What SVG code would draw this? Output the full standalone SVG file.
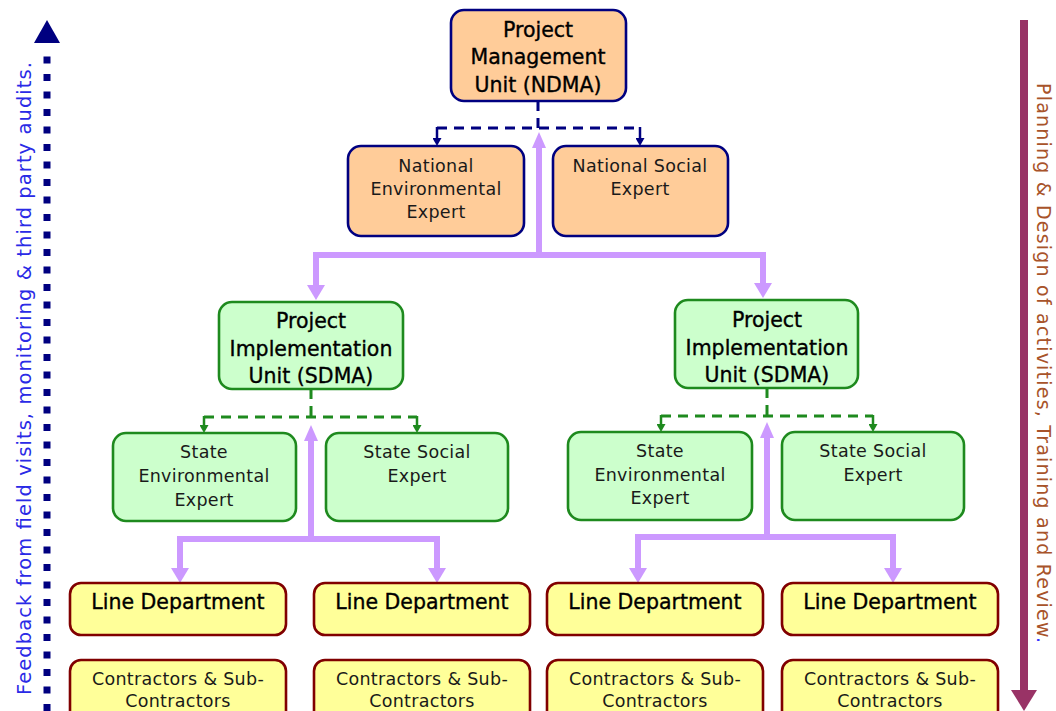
<svg xmlns="http://www.w3.org/2000/svg" width="1056" height="711" viewBox="0 0 1056 711">
<style>
  .box { stroke-width: 2.6; }
  .nat { fill: #FFCC99; stroke: #000080; }
  .sta { fill: #CCFFCC; stroke: #1E8A1E; }
  .lin { fill: #FFFF99; stroke: #800000; }
  text { font-family: "DejaVu Sans", "Liberation Sans", sans-serif; text-anchor: middle; }
  .h { font-size: 20.5px; fill: #000; stroke: #000; stroke-width: 0.35; }
  .e { font-size: 17.5px; fill: #1a1a1a; letter-spacing: 0.3px; }
  .c { font-size: 17.5px; fill: #1a1a1a; letter-spacing: 0.3px; }
  .purple { fill: none; stroke: #CC99FF; stroke-width: 6; stroke-linejoin: miter; }
  .ndash { fill: none; stroke: #000080; stroke-width: 3; stroke-dasharray: 10 7; }
  .gdash { fill: none; stroke: #1E8A1E; stroke-width: 3; stroke-dasharray: 10 7; }
  .ntick { fill: none; stroke: #000080; stroke-width: 2.5; }
  .gtick { fill: none; stroke: #1E8A1E; stroke-width: 2.5; }
</style>
<defs>
  <marker id="pd" markerUnits="userSpaceOnUse" viewBox="0 0 16 18" markerWidth="16" markerHeight="18" refX="0" refY="9" orient="auto-start-reverse">
    <path d="M0,0 L15,9 L0,18 z" fill="#CC99FF"/>
  </marker>
  <marker id="pu" markerUnits="userSpaceOnUse" viewBox="0 0 16 14" markerWidth="16" markerHeight="14" refX="0" refY="7" orient="auto">
    <path d="M0,0 L16,7 L0,14 z" fill="#CC99FF"/>
  </marker>
  <marker id="na" markerUnits="userSpaceOnUse" viewBox="0 0 8 9" markerWidth="8" markerHeight="9" refX="0" refY="4.5" orient="auto">
    <path d="M0,0 L8,4.5 L0,9 z" fill="#000080"/>
  </marker>
  <marker id="ga" markerUnits="userSpaceOnUse" viewBox="0 0 8 9" markerWidth="8" markerHeight="9" refX="0" refY="4.5" orient="auto">
    <path d="M0,0 L8,4.5 L0,9 z" fill="#1E8A1E"/>
  </marker>
</defs>

<g id="connectors">
  <path class="ndash" d="M538,101 V128 M437,128 H640"/>
  <path class="ntick" d="M437,127 V138" marker-end="url(#na)"/>
  <path class="ntick" d="M640,127 V138" marker-end="url(#na)"/>
  <path class="gdash" d="M311,389 V417 M204,417 H417"/>
  <path class="gtick" d="M204,416 V425" marker-end="url(#ga)"/>
  <path class="gtick" d="M417,416 V425" marker-end="url(#ga)"/>
  <path class="gdash" d="M767,388 V416 M661,416 H873"/>
  <path class="gtick" d="M661,415 V424" marker-end="url(#ga)"/>
  <path class="gtick" d="M873,415 V424" marker-end="url(#ga)"/>
  <path class="purple" d="M539,255 V148" marker-end="url(#pu)"/>
  <path class="purple" d="M316,285 V255 H763 V283" marker-start="url(#pd)" marker-end="url(#pd)"/>
  <path class="purple" d="M311,539 V441" marker-end="url(#pu)"/>
  <path class="purple" d="M180,568 V539 H437 V568" marker-start="url(#pd)" marker-end="url(#pd)"/>
  <path class="purple" d="M767,537 V438" marker-end="url(#pu)"/>
  <path class="purple" d="M638,568 V537 H893 V568" marker-start="url(#pd)" marker-end="url(#pd)"/>
  <path d="M47,711 V46" fill="none" stroke="#000080" stroke-width="7" stroke-dasharray="7 10.5"/>
  <polygon points="34,43 60,43 47,20" fill="#000080"/>
  <path d="M1024,20 V691" fill="none" stroke="#993366" stroke-width="8"/>
  <polygon points="1011,690 1037,690 1024,711" fill="#993366"/>
</g>

<g id="side-labels">
  <text transform="translate(31,695) rotate(-90)" style="text-anchor:start;font-size:19.5px;fill:#2A2AE6" textLength="633" lengthAdjust="spacing">Feedback from field visits, monitoring &amp; third party audits.</text>
  <text transform="translate(1037,83) rotate(90)" style="text-anchor:start;font-size:19px;fill:#A8532A" textLength="560" lengthAdjust="spacing">Planning &amp; Design of activities, Training and Review<tspan fill="#3333FF">.</tspan></text>
</g>

<g id="pmu">
  <rect class="box nat" x="451" y="10" width="175" height="91" rx="13"/>
  <text class="h" x="538" y="37">Project</text>
  <text class="h" x="538" y="64">Management</text>
  <text class="h" x="538" y="92">Unit (NDMA)</text>
</g>
<g id="national-env">
  <rect class="box nat" x="348" y="146" width="176" height="90" rx="13"/>
  <text class="e" x="436" y="172">National</text>
  <text class="e" x="436" y="195">Environmental</text>
  <text class="e" x="436" y="218">Expert</text>
</g>
<g id="national-social">
  <rect class="box nat" x="553" y="146" width="175" height="90" rx="13"/>
  <text class="e" x="640" y="172">National Social</text>
  <text class="e" x="640" y="195">Expert</text>
</g>

<g id="piu-left">
  <rect class="box sta" x="219" y="302" width="184" height="87" rx="13"/>
  <text class="h" x="311" y="328">Project</text>
  <text class="h" x="311" y="356">Implementation</text>
  <text class="h" x="311" y="383">Unit (SDMA)</text>
</g>
<g id="piu-right">
  <rect class="box sta" x="675" y="300" width="183" height="88" rx="13"/>
  <text class="h" x="767" y="327">Project</text>
  <text class="h" x="767" y="355">Implementation</text>
  <text class="h" x="767" y="382">Unit (SDMA)</text>
</g>

<g id="state-env-left">
  <rect class="box sta" x="113" y="433" width="183" height="88" rx="13"/>
  <text class="e" x="204" y="458">State</text>
  <text class="e" x="204" y="482">Environmental</text>
  <text class="e" x="204" y="506">Expert</text>
</g>
<g id="state-social-left">
  <rect class="box sta" x="326" y="433" width="182" height="88" rx="13"/>
  <text class="e" x="417" y="458">State Social</text>
  <text class="e" x="417" y="482">Expert</text>
</g>
<g id="state-env-right">
  <rect class="box sta" x="568" y="432" width="184" height="88" rx="13"/>
  <text class="e" x="660" y="457">State</text>
  <text class="e" x="660" y="481">Environmental</text>
  <text class="e" x="660" y="504">Expert</text>
</g>
<g id="state-social-right">
  <rect class="box sta" x="782" y="432" width="182" height="88" rx="13"/>
  <text class="e" x="873" y="457">State Social</text>
  <text class="e" x="873" y="481">Expert</text>
</g>

<g id="line-dept-1">
  <rect class="box lin" x="70" y="583" width="216" height="52" rx="11"/>
  <text class="h" x="178" y="609">Line Department</text>
</g>
<g id="line-dept-2">
  <rect class="box lin" x="314" y="583" width="216" height="52" rx="11"/>
  <text class="h" x="422" y="609">Line Department</text>
</g>
<g id="line-dept-3">
  <rect class="box lin" x="547" y="583" width="216" height="52" rx="11"/>
  <text class="h" x="655" y="609">Line Department</text>
</g>
<g id="line-dept-4">
  <rect class="box lin" x="782" y="583" width="216" height="52" rx="11"/>
  <text class="h" x="890" y="609">Line Department</text>
</g>

<g id="contractors-1">
  <rect class="box lin" x="70" y="660" width="216" height="62" rx="11"/>
  <text class="c" x="178" y="685">Contractors &amp; Sub-</text>
  <text class="c" x="178" y="707">Contractors</text>
</g>
<g id="contractors-2">
  <rect class="box lin" x="314" y="660" width="216" height="62" rx="11"/>
  <text class="c" x="422" y="685">Contractors &amp; Sub-</text>
  <text class="c" x="422" y="707">Contractors</text>
</g>
<g id="contractors-3">
  <rect class="box lin" x="547" y="660" width="216" height="62" rx="11"/>
  <text class="c" x="655" y="685">Contractors &amp; Sub-</text>
  <text class="c" x="655" y="707">Contractors</text>
</g>
<g id="contractors-4">
  <rect class="box lin" x="782" y="660" width="216" height="62" rx="11"/>
  <text class="c" x="890" y="685">Contractors &amp; Sub-</text>
  <text class="c" x="890" y="707">Contractors</text>
</g>
</svg>
